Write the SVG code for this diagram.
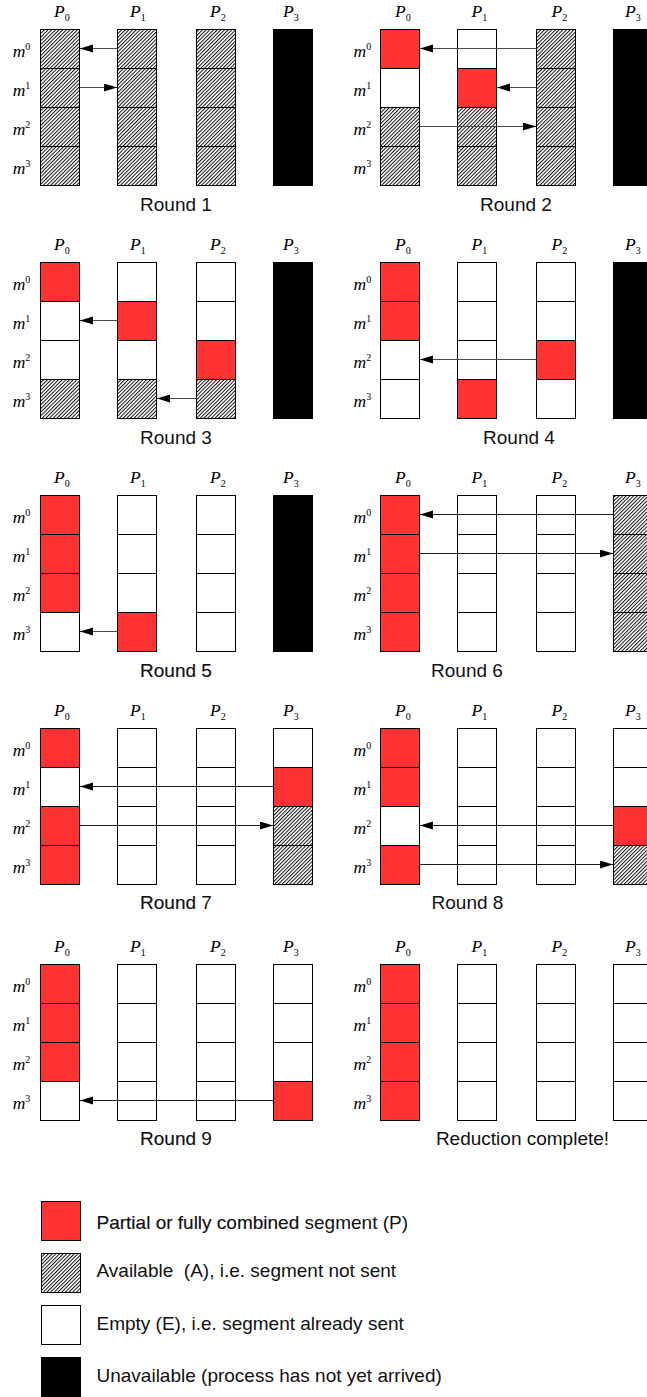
<svg xmlns="http://www.w3.org/2000/svg" width="647" height="1397" viewBox="0 0 647 1397">
<style>
  .P { fill: #ff3333; stroke: #000; stroke-width: 1; }
  .A { fill: url(#hatch); stroke: #000; stroke-width: 1; }
  .E { fill: #ffffff; stroke: #000; stroke-width: 1; }
  .U { fill: #000000; stroke: #000; stroke-width: 1; }
  .plab { font-family: "Liberation Serif", serif; font-style: italic; font-size: 17.5px; fill: #000; }
  .sub { font-style: normal; font-size: 10px; }
  .mlab { font-family: "Liberation Serif", serif; font-style: italic; font-size: 17.5px; fill: #000; }
  .rlab { font-family: "Liberation Sans", Arial, sans-serif; font-size: 19px; fill: #111; text-anchor: middle; }
  .dbl { stroke: #000; stroke-width: 0.15; }
  .leg { font-family: "Liberation Sans", Arial, sans-serif; font-size: 19px; fill: #111; white-space: pre; }
  .c1 { stroke: #4a4a4a; stroke-width: 1; fill: none; marker-end: url(#ah); }
  .c2 { stroke: #1a1a1a; stroke-width: 1; fill: none; marker-end: url(#ah); }
</style>
<defs>
  <pattern id="hatch" patternUnits="userSpaceOnUse" width="2.6" height="10" patternTransform="rotate(45)">
    <rect width="2.6" height="10" fill="#fff"/>
    <rect width="1" height="10" fill="#111"/>
  </pattern>
  <marker id="ah" markerUnits="userSpaceOnUse" markerWidth="14" markerHeight="9" refX="13" refY="4" orient="auto">
    <path d="M0,0 L13,4 L0,8 Z" fill="#000"/>
  </marker>
</defs>
<rect width="647" height="1397" fill="#fff"/>

<!-- ===== Round 1 (left, top 29.5) ===== -->
<g id="round1">
  <g id="r1-labels">
    <text class="plab" x="54" y="16.7">P<tspan class="sub" dy="4">0</tspan></text>
    <text class="plab" x="130" y="16.7">P<tspan class="sub" dy="4">1</tspan></text>
    <text class="plab" x="210" y="16.7">P<tspan class="sub" dy="4">2</tspan></text>
    <text class="plab" x="283" y="16.7">P<tspan class="sub" dy="4">3</tspan></text>
    <text class="mlab" x="12.7" y="57">m<tspan class="sub" dy="-7">0</tspan></text>
    <text class="mlab" x="12.7" y="96">m<tspan class="sub" dy="-7">1</tspan></text>
    <text class="mlab" x="12.7" y="135">m<tspan class="sub" dy="-7">2</tspan></text>
    <text class="mlab" x="12.7" y="174">m<tspan class="sub" dy="-7">3</tspan></text>
    <text class="rlab" x="176" y="210.5">Round 1</text>
  </g>
  <g id="r1-p0"><rect class="A" x="40.5" y="29.5" width="39" height="39"/><rect class="A" x="40.5" y="68.5" width="39" height="39"/><rect class="A" x="40.5" y="107.5" width="39" height="39"/><rect class="A" x="40.5" y="146.5" width="39" height="39"/></g>
  <g id="r1-p1"><rect class="A" x="117.5" y="29.5" width="39" height="39"/><rect class="A" x="117.5" y="68.5" width="39" height="39"/><rect class="A" x="117.5" y="107.5" width="39" height="39"/><rect class="A" x="117.5" y="146.5" width="39" height="39"/></g>
  <g id="r1-p2"><rect class="A" x="196.5" y="29.5" width="39" height="39"/><rect class="A" x="196.5" y="68.5" width="39" height="39"/><rect class="A" x="196.5" y="107.5" width="39" height="39"/><rect class="A" x="196.5" y="146.5" width="39" height="39"/></g>
  <g id="r1-p3"><rect class="U" x="273.5" y="29.5" width="39" height="156"/></g>
</g>

<!-- ===== Round 2 (right, top 29.5) ===== -->
<g id="round2">
  <g id="r2-labels">
    <text class="plab" x="395" y="16.7">P<tspan class="sub" dy="4">0</tspan></text>
    <text class="plab" x="471.5" y="16.7">P<tspan class="sub" dy="4">1</tspan></text>
    <text class="plab" x="551.5" y="16.7">P<tspan class="sub" dy="4">2</tspan></text>
    <text class="plab" x="625" y="16.7">P<tspan class="sub" dy="4">3</tspan></text>
    <text class="mlab" x="353.5" y="57">m<tspan class="sub" dy="-7">0</tspan></text>
    <text class="mlab" x="353.5" y="96">m<tspan class="sub" dy="-7">1</tspan></text>
    <text class="mlab" x="353.5" y="135">m<tspan class="sub" dy="-7">2</tspan></text>
    <text class="mlab" x="353.5" y="174">m<tspan class="sub" dy="-7">3</tspan></text>
    <text class="rlab" x="516" y="210.5">Round 2</text>
  </g>
  <g id="r2-p0"><rect class="P" x="380.5" y="29.5" width="39" height="39"/><rect class="E" x="380.5" y="68.5" width="39" height="39"/><rect class="A" x="380.5" y="107.5" width="39" height="39"/><rect class="A" x="380.5" y="146.5" width="39" height="39"/></g>
  <g id="r2-p1"><rect class="E" x="457.5" y="29.5" width="39" height="39"/><rect class="P" x="457.5" y="68.5" width="39" height="39"/><rect class="A" x="457.5" y="107.5" width="39" height="39"/><rect class="A" x="457.5" y="146.5" width="39" height="39"/></g>
  <g id="r2-p2"><rect class="A" x="536.5" y="29.5" width="39" height="39"/><rect class="A" x="536.5" y="68.5" width="39" height="39"/><rect class="A" x="536.5" y="107.5" width="39" height="39"/><rect class="A" x="536.5" y="146.5" width="39" height="39"/></g>
  <g id="r2-p3"><rect class="U" x="613.5" y="29.5" width="39" height="156"/></g>
</g>

<!-- ===== Round 3 (left, top 262.5) ===== -->
<g id="round3">
  <g id="r3-labels">
    <text class="plab" x="54" y="249.7">P<tspan class="sub" dy="4">0</tspan></text>
    <text class="plab" x="130" y="249.7">P<tspan class="sub" dy="4">1</tspan></text>
    <text class="plab" x="210" y="249.7">P<tspan class="sub" dy="4">2</tspan></text>
    <text class="plab" x="283" y="249.7">P<tspan class="sub" dy="4">3</tspan></text>
    <text class="mlab" x="12.7" y="290">m<tspan class="sub" dy="-7">0</tspan></text>
    <text class="mlab" x="12.7" y="329">m<tspan class="sub" dy="-7">1</tspan></text>
    <text class="mlab" x="12.7" y="368">m<tspan class="sub" dy="-7">2</tspan></text>
    <text class="mlab" x="12.7" y="407">m<tspan class="sub" dy="-7">3</tspan></text>
    <text class="rlab" x="176" y="443.5">Round 3</text>
  </g>
  <g id="r3-p0"><rect class="P" x="40.5" y="262.5" width="39" height="39"/><rect class="E" x="40.5" y="301.5" width="39" height="39"/><rect class="E" x="40.5" y="340.5" width="39" height="39"/><rect class="A" x="40.5" y="379.5" width="39" height="39"/></g>
  <g id="r3-p1"><rect class="E" x="117.5" y="262.5" width="39" height="39"/><rect class="P" x="117.5" y="301.5" width="39" height="39"/><rect class="E" x="117.5" y="340.5" width="39" height="39"/><rect class="A" x="117.5" y="379.5" width="39" height="39"/></g>
  <g id="r3-p2"><rect class="E" x="196.5" y="262.5" width="39" height="39"/><rect class="E" x="196.5" y="301.5" width="39" height="39"/><rect class="P" x="196.5" y="340.5" width="39" height="39"/><rect class="A" x="196.5" y="379.5" width="39" height="39"/></g>
  <g id="r3-p3"><rect class="U" x="273.5" y="262.5" width="39" height="156"/></g>
</g>

<!-- ===== Round 4 (right, top 262.5) ===== -->
<g id="round4">
  <g id="r4-labels">
    <text class="plab" x="395" y="249.7">P<tspan class="sub" dy="4">0</tspan></text>
    <text class="plab" x="471.5" y="249.7">P<tspan class="sub" dy="4">1</tspan></text>
    <text class="plab" x="551.5" y="249.7">P<tspan class="sub" dy="4">2</tspan></text>
    <text class="plab" x="625" y="249.7">P<tspan class="sub" dy="4">3</tspan></text>
    <text class="mlab" x="353.5" y="290">m<tspan class="sub" dy="-7">0</tspan></text>
    <text class="mlab" x="353.5" y="329">m<tspan class="sub" dy="-7">1</tspan></text>
    <text class="mlab" x="353.5" y="368">m<tspan class="sub" dy="-7">2</tspan></text>
    <text class="mlab" x="353.5" y="407">m<tspan class="sub" dy="-7">3</tspan></text>
    <text class="rlab" x="519" y="443.5">Round 4</text>
  </g>
  <g id="r4-p0"><rect class="P" x="380.5" y="262.5" width="39" height="39"/><rect class="P" x="380.5" y="301.5" width="39" height="39"/><rect class="E" x="380.5" y="340.5" width="39" height="39"/><rect class="E" x="380.5" y="379.5" width="39" height="39"/></g>
  <g id="r4-p1"><rect class="E" x="457.5" y="262.5" width="39" height="39"/><rect class="E" x="457.5" y="301.5" width="39" height="39"/><rect class="E" x="457.5" y="340.5" width="39" height="39"/><rect class="P" x="457.5" y="379.5" width="39" height="39"/></g>
  <g id="r4-p2"><rect class="E" x="536.5" y="262.5" width="39" height="39"/><rect class="E" x="536.5" y="301.5" width="39" height="39"/><rect class="P" x="536.5" y="340.5" width="39" height="39"/><rect class="E" x="536.5" y="379.5" width="39" height="39"/></g>
  <g id="r4-p3"><rect class="U" x="613.5" y="262.5" width="39" height="156"/></g>
</g>

<!-- ===== Round 5 (left, top 495.5) ===== -->
<g id="round5">
  <g id="r5-labels">
    <text class="plab" x="54" y="482.7">P<tspan class="sub" dy="4">0</tspan></text>
    <text class="plab" x="130" y="482.7">P<tspan class="sub" dy="4">1</tspan></text>
    <text class="plab" x="210" y="482.7">P<tspan class="sub" dy="4">2</tspan></text>
    <text class="plab" x="283" y="482.7">P<tspan class="sub" dy="4">3</tspan></text>
    <text class="mlab" x="12.7" y="523">m<tspan class="sub" dy="-7">0</tspan></text>
    <text class="mlab" x="12.7" y="562">m<tspan class="sub" dy="-7">1</tspan></text>
    <text class="mlab" x="12.7" y="601">m<tspan class="sub" dy="-7">2</tspan></text>
    <text class="mlab" x="12.7" y="640">m<tspan class="sub" dy="-7">3</tspan></text>
    <text class="rlab dbl" x="176" y="676.5">Round 5</text>
  </g>
  <g id="r5-p0"><rect class="P" x="40.5" y="495.5" width="39" height="39"/><rect class="P" x="40.5" y="534.5" width="39" height="39"/><rect class="P" x="40.5" y="573.5" width="39" height="39"/><rect class="E" x="40.5" y="612.5" width="39" height="39"/></g>
  <g id="r5-p1"><rect class="E" x="117.5" y="495.5" width="39" height="39"/><rect class="E" x="117.5" y="534.5" width="39" height="39"/><rect class="E" x="117.5" y="573.5" width="39" height="39"/><rect class="P" x="117.5" y="612.5" width="39" height="39"/></g>
  <g id="r5-p2"><rect class="E" x="196.5" y="495.5" width="39" height="39"/><rect class="E" x="196.5" y="534.5" width="39" height="39"/><rect class="E" x="196.5" y="573.5" width="39" height="39"/><rect class="E" x="196.5" y="612.5" width="39" height="39"/></g>
  <g id="r5-p3"><rect class="U" x="273.5" y="495.5" width="39" height="156"/></g>
</g>

<!-- ===== Round 6 (right, top 495.5) ===== -->
<g id="round6">
  <g id="r6-labels">
    <text class="plab" x="395" y="482.7">P<tspan class="sub" dy="4">0</tspan></text>
    <text class="plab" x="471.5" y="482.7">P<tspan class="sub" dy="4">1</tspan></text>
    <text class="plab" x="551.5" y="482.7">P<tspan class="sub" dy="4">2</tspan></text>
    <text class="plab" x="625" y="482.7">P<tspan class="sub" dy="4">3</tspan></text>
    <text class="mlab" x="353.5" y="523">m<tspan class="sub" dy="-7">0</tspan></text>
    <text class="mlab" x="353.5" y="562">m<tspan class="sub" dy="-7">1</tspan></text>
    <text class="mlab" x="353.5" y="601">m<tspan class="sub" dy="-7">2</tspan></text>
    <text class="mlab" x="353.5" y="640">m<tspan class="sub" dy="-7">3</tspan></text>
    <text class="rlab" x="467" y="676.5">Round 6</text>
  </g>
  <g id="r6-p0"><rect class="P" x="380.5" y="495.5" width="39" height="39"/><rect class="P" x="380.5" y="534.5" width="39" height="39"/><rect class="P" x="380.5" y="573.5" width="39" height="39"/><rect class="P" x="380.5" y="612.5" width="39" height="39"/></g>
  <g id="r6-p1"><rect class="E" x="457.5" y="495.5" width="39" height="39"/><rect class="E" x="457.5" y="534.5" width="39" height="39"/><rect class="E" x="457.5" y="573.5" width="39" height="39"/><rect class="E" x="457.5" y="612.5" width="39" height="39"/></g>
  <g id="r6-p2"><rect class="E" x="536.5" y="495.5" width="39" height="39"/><rect class="E" x="536.5" y="534.5" width="39" height="39"/><rect class="E" x="536.5" y="573.5" width="39" height="39"/><rect class="E" x="536.5" y="612.5" width="39" height="39"/></g>
  <g id="r6-p3"><rect class="A" x="613.5" y="495.5" width="39" height="39"/><rect class="A" x="613.5" y="534.5" width="39" height="39"/><rect class="A" x="613.5" y="573.5" width="39" height="39"/><rect class="A" x="613.5" y="612.5" width="39" height="39"/></g>
</g>

<!-- ===== Round 7 (left, top 728.5) ===== -->
<g id="round7">
  <g id="r7-labels">
    <text class="plab" x="54" y="715.7">P<tspan class="sub" dy="4">0</tspan></text>
    <text class="plab" x="130" y="715.7">P<tspan class="sub" dy="4">1</tspan></text>
    <text class="plab" x="210" y="715.7">P<tspan class="sub" dy="4">2</tspan></text>
    <text class="plab" x="283" y="715.7">P<tspan class="sub" dy="4">3</tspan></text>
    <text class="mlab" x="12.7" y="756">m<tspan class="sub" dy="-7">0</tspan></text>
    <text class="mlab" x="12.7" y="795">m<tspan class="sub" dy="-7">1</tspan></text>
    <text class="mlab" x="12.7" y="834">m<tspan class="sub" dy="-7">2</tspan></text>
    <text class="mlab" x="12.7" y="873">m<tspan class="sub" dy="-7">3</tspan></text>
    <text class="rlab" x="176" y="909"><tspan class="dbl">Round</tspan> 7</text>
  </g>
  <g id="r7-p0"><rect class="P" x="40.5" y="728.5" width="39" height="39"/><rect class="E" x="40.5" y="767.5" width="39" height="39"/><rect class="P" x="40.5" y="806.5" width="39" height="39"/><rect class="P" x="40.5" y="845.5" width="39" height="39"/></g>
  <g id="r7-p1"><rect class="E" x="117.5" y="728.5" width="39" height="39"/><rect class="E" x="117.5" y="767.5" width="39" height="39"/><rect class="E" x="117.5" y="806.5" width="39" height="39"/><rect class="E" x="117.5" y="845.5" width="39" height="39"/></g>
  <g id="r7-p2"><rect class="E" x="196.5" y="728.5" width="39" height="39"/><rect class="E" x="196.5" y="767.5" width="39" height="39"/><rect class="E" x="196.5" y="806.5" width="39" height="39"/><rect class="E" x="196.5" y="845.5" width="39" height="39"/></g>
  <g id="r7-p3"><rect class="E" x="273.5" y="728.5" width="39" height="39"/><rect class="P" x="273.5" y="767.5" width="39" height="39"/><rect class="A" x="273.5" y="806.5" width="39" height="39"/><rect class="A" x="273.5" y="845.5" width="39" height="39"/></g>
</g>

<!-- ===== Round 8 (right, top 728.5) ===== -->
<g id="round8">
  <g id="r8-labels">
    <text class="plab" x="395" y="715.7">P<tspan class="sub" dy="4">0</tspan></text>
    <text class="plab" x="471.5" y="715.7">P<tspan class="sub" dy="4">1</tspan></text>
    <text class="plab" x="551.5" y="715.7">P<tspan class="sub" dy="4">2</tspan></text>
    <text class="plab" x="625" y="715.7">P<tspan class="sub" dy="4">3</tspan></text>
    <text class="mlab" x="353.5" y="756">m<tspan class="sub" dy="-7">0</tspan></text>
    <text class="mlab" x="353.5" y="795">m<tspan class="sub" dy="-7">1</tspan></text>
    <text class="mlab" x="353.5" y="834">m<tspan class="sub" dy="-7">2</tspan></text>
    <text class="mlab" x="353.5" y="873">m<tspan class="sub" dy="-7">3</tspan></text>
    <text class="rlab" x="467.5" y="909">Round 8</text>
  </g>
  <g id="r8-p0"><rect class="P" x="380.5" y="728.5" width="39" height="39"/><rect class="P" x="380.5" y="767.5" width="39" height="39"/><rect class="E" x="380.5" y="806.5" width="39" height="39"/><rect class="P" x="380.5" y="845.5" width="39" height="39"/></g>
  <g id="r8-p1"><rect class="E" x="457.5" y="728.5" width="39" height="39"/><rect class="E" x="457.5" y="767.5" width="39" height="39"/><rect class="E" x="457.5" y="806.5" width="39" height="39"/><rect class="E" x="457.5" y="845.5" width="39" height="39"/></g>
  <g id="r8-p2"><rect class="E" x="536.5" y="728.5" width="39" height="39"/><rect class="E" x="536.5" y="767.5" width="39" height="39"/><rect class="E" x="536.5" y="806.5" width="39" height="39"/><rect class="E" x="536.5" y="845.5" width="39" height="39"/></g>
  <g id="r8-p3"><rect class="E" x="613.5" y="728.5" width="39" height="39"/><rect class="E" x="613.5" y="767.5" width="39" height="39"/><rect class="P" x="613.5" y="806.5" width="39" height="39"/><rect class="A" x="613.5" y="845.5" width="39" height="39"/></g>
</g>

<!-- ===== Round 9 (left, top 964.5) ===== -->
<g id="round9">
  <g id="r9-labels">
    <text class="plab" x="54" y="951.7">P<tspan class="sub" dy="4">0</tspan></text>
    <text class="plab" x="130" y="951.7">P<tspan class="sub" dy="4">1</tspan></text>
    <text class="plab" x="210" y="951.7">P<tspan class="sub" dy="4">2</tspan></text>
    <text class="plab" x="283" y="951.7">P<tspan class="sub" dy="4">3</tspan></text>
    <text class="mlab" x="12.7" y="992">m<tspan class="sub" dy="-7">0</tspan></text>
    <text class="mlab" x="12.7" y="1031">m<tspan class="sub" dy="-7">1</tspan></text>
    <text class="mlab" x="12.7" y="1070">m<tspan class="sub" dy="-7">2</tspan></text>
    <text class="mlab" x="12.7" y="1109">m<tspan class="sub" dy="-7">3</tspan></text>
    <text class="rlab" x="176" y="1145"><tspan class="dbl">Round</tspan> 9</text>
  </g>
  <g id="r9-p0"><rect class="P" x="40.5" y="964.5" width="39" height="39"/><rect class="P" x="40.5" y="1003.5" width="39" height="39"/><rect class="P" x="40.5" y="1042.5" width="39" height="39"/><rect class="E" x="40.5" y="1081.5" width="39" height="39"/></g>
  <g id="r9-p1"><rect class="E" x="117.5" y="964.5" width="39" height="39"/><rect class="E" x="117.5" y="1003.5" width="39" height="39"/><rect class="E" x="117.5" y="1042.5" width="39" height="39"/><rect class="E" x="117.5" y="1081.5" width="39" height="39"/></g>
  <g id="r9-p2"><rect class="E" x="196.5" y="964.5" width="39" height="39"/><rect class="E" x="196.5" y="1003.5" width="39" height="39"/><rect class="E" x="196.5" y="1042.5" width="39" height="39"/><rect class="E" x="196.5" y="1081.5" width="39" height="39"/></g>
  <g id="r9-p3"><rect class="E" x="273.5" y="964.5" width="39" height="39"/><rect class="E" x="273.5" y="1003.5" width="39" height="39"/><rect class="E" x="273.5" y="1042.5" width="39" height="39"/><rect class="P" x="273.5" y="1081.5" width="39" height="39"/></g>
</g>

<!-- ===== Reduction complete (right, top 964.5) ===== -->
<g id="round10">
  <g id="r10-labels">
    <text class="plab" x="395" y="951.7">P<tspan class="sub" dy="4">0</tspan></text>
    <text class="plab" x="471.5" y="951.7">P<tspan class="sub" dy="4">1</tspan></text>
    <text class="plab" x="551.5" y="951.7">P<tspan class="sub" dy="4">2</tspan></text>
    <text class="plab" x="625" y="951.7">P<tspan class="sub" dy="4">3</tspan></text>
    <text class="mlab" x="353.5" y="992">m<tspan class="sub" dy="-7">0</tspan></text>
    <text class="mlab" x="353.5" y="1031">m<tspan class="sub" dy="-7">1</tspan></text>
    <text class="mlab" x="353.5" y="1070">m<tspan class="sub" dy="-7">2</tspan></text>
    <text class="mlab" x="353.5" y="1109">m<tspan class="sub" dy="-7">3</tspan></text>
    <text class="rlab" x="522.5" y="1145">Reduction complete!</text>
  </g>
  <g id="r10-p0"><rect class="P" x="380.5" y="964.5" width="39" height="39"/><rect class="P" x="380.5" y="1003.5" width="39" height="39"/><rect class="P" x="380.5" y="1042.5" width="39" height="39"/><rect class="P" x="380.5" y="1081.5" width="39" height="39"/></g>
  <g id="r10-p1"><rect class="E" x="457.5" y="964.5" width="39" height="39"/><rect class="E" x="457.5" y="1003.5" width="39" height="39"/><rect class="E" x="457.5" y="1042.5" width="39" height="39"/><rect class="E" x="457.5" y="1081.5" width="39" height="39"/></g>
  <g id="r10-p2"><rect class="E" x="536.5" y="964.5" width="39" height="39"/><rect class="E" x="536.5" y="1003.5" width="39" height="39"/><rect class="E" x="536.5" y="1042.5" width="39" height="39"/><rect class="E" x="536.5" y="1081.5" width="39" height="39"/></g>
  <g id="r10-p3"><rect class="E" x="613.5" y="964.5" width="39" height="39"/><rect class="E" x="613.5" y="1003.5" width="39" height="39"/><rect class="E" x="613.5" y="1042.5" width="39" height="39"/><rect class="E" x="613.5" y="1081.5" width="39" height="39"/></g>
</g>

<!-- ===== Connectors ===== -->
<g id="connectors">
  <line class="c1" x1="117.5" y1="48.5" x2="80" y2="48.5"/>
  <line class="c1" x1="80" y1="87.5" x2="117" y2="87.5"/>
  <line class="c1" x1="536.5" y1="48.5" x2="420" y2="48.5"/>
  <line class="c1" x1="536.5" y1="87.5" x2="497" y2="87.5"/>
  <line class="c1" x1="420" y1="126.5" x2="536" y2="126.5"/>
  <line class="c1" x1="117.5" y1="320.5" x2="80" y2="320.5"/>
  <line class="c1" x1="196.5" y1="398.5" x2="157" y2="398.5"/>
  <line class="c1" x1="536.5" y1="359.5" x2="420" y2="359.5"/>
  <line class="c1" x1="117.5" y1="631.5" x2="80" y2="631.5"/>
  <line class="c2" x1="613.5" y1="514.5" x2="420" y2="514.5"/>
  <line class="c2" x1="420" y1="553.5" x2="613" y2="553.5"/>
  <line class="c2" x1="273.5" y1="786.5" x2="80" y2="786.5"/>
  <line class="c2" x1="80" y1="825.5" x2="273" y2="825.5"/>
  <line class="c2" x1="613.5" y1="825.5" x2="420" y2="825.5"/>
  <line class="c2" x1="420" y1="864.5" x2="613" y2="864.5"/>
  <line class="c2" x1="273.5" y1="1100.5" x2="80" y2="1100.5"/>
</g>

<!-- ===== Legend ===== -->
<g id="legend">
  <g id="leg-P"><rect class="P" x="41.5" y="1201.5" width="39" height="39"/><text class="leg" x="96.5" y="1228.5"><tspan class="dbl">Partial or fully combined</tspan> segment (P)</text></g>
  <g id="leg-A"><rect class="A" x="41.5" y="1253.5" width="39" height="39"/><text class="leg" x="96.5" y="1277">Available  (A), i.e. segment not sent</text></g>
  <g id="leg-E"><rect class="E" x="41.5" y="1305.5" width="39" height="39"/><text class="leg" x="96.5" y="1330">Empty (E), i.e. segment already sent</text></g>
  <g id="leg-U"><rect class="U" x="41.5" y="1357.5" width="39" height="40"/><text class="leg" x="96.5" y="1382">Unavailable (process has not yet arrived)</text></g>
</g>
</svg>
